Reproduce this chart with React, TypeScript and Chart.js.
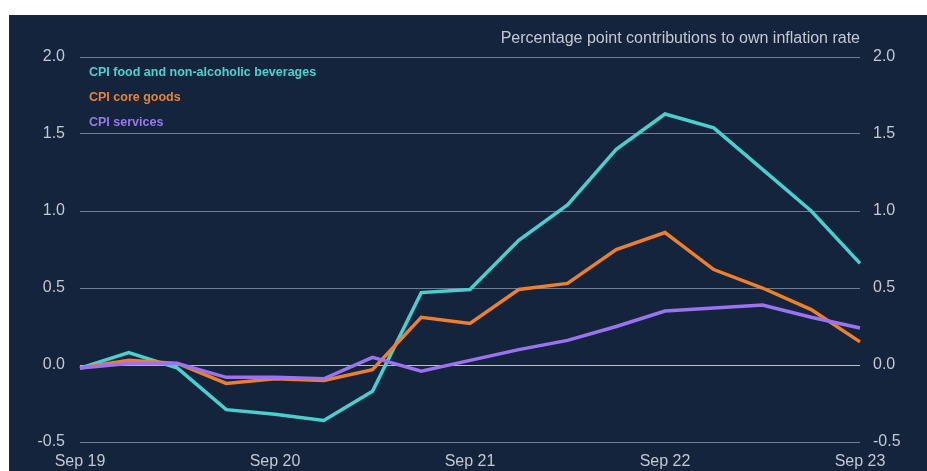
import React, { useEffect, useRef } from "react";
import { Chart, registerables } from "chart.js";

Chart.register(...registerables);

const quarters = [
  "Sep 19", "Dec 19", "Mar 20", "Jun 20", "Sep 20", "Dec 20", "Mar 21", "Jun 21",
  "Sep 21", "Dec 21", "Mar 22", "Jun 22", "Sep 22", "Dec 22", "Mar 23", "Jun 23", "Sep 23",
];
const foodValues = [-0.02, 0.08, -0.02, -0.29, -0.32, -0.36, -0.17, 0.47, 0.49, 0.81, 1.04, 1.4, 1.63, 1.54, 1.27, 1.0, 0.66];
const coreGoodsValues = [-0.02, 0.03, 0.01, -0.12, -0.09, -0.1, -0.03, 0.31, 0.27, 0.49, 0.53, 0.75, 0.86, 0.62, 0.5, 0.36, 0.15];
const servicesValues = [-0.02, 0.01, 0.01, -0.08, -0.08, -0.09, 0.05, -0.04, 0.03, 0.1, 0.16, 0.25, 0.35, 0.37, 0.39, 0.31, 0.24];
const seriesNames = ["CPI food and non-alcoholic beverages", "CPI core goods", "CPI services"];
const seriesColors = ["#4acfcf", "#ee7f2b", "#9b72f0"];
const legendColors = ["#4fd1d0", "#ea832f", "#9a78ea"];
const yMin = -0.5;
const yMax = 2.0;
const yStep = 0.5;
const chartTitle = "Percentage point contributions to own inflation rate";

const FONT = "'Liberation Sans', Arial, sans-serif";
const TEXT = "#c3c8d1";

const overlayPlugin = {
  id: "overlay",
  afterDraw(chart: any) {
    const { ctx, chartArea } = chart;
    ctx.save();
    ctx.textBaseline = "middle";
    ctx.font = `16px ${FONT}`;
    ctx.fillStyle = TEXT;
    ctx.textAlign = "right";
    ctx.fillText(chartTitle, chartArea.right, chartArea.top - 18);
    ctx.font = `bold 12.5px ${FONT}`;
    ctx.textAlign = "left";
    seriesNames.forEach((name, i) => {
      ctx.fillStyle = legendColors[i];
      ctx.fillText(name, chartArea.left + 9, chartArea.top + 16 + i * 25);
    });
    ctx.restore();
  },
};

export default function App() {
  const ref = useRef<HTMLCanvasElement | null>(null);

  useEffect(() => {
    if (!ref.current) return;
    const values = [foodValues, coreGoodsValues, servicesValues];
    const orders = [2, 1, 0];
    const chart = new Chart(ref.current, {
      type: "line",
      data: {
        labels: quarters,
        datasets: values.map((v, i) => ({
          label: seriesNames[i],
          data: v,
          borderColor: seriesColors[i],
          backgroundColor: seriesColors[i],
          borderWidth: 3.5,
          pointRadius: 0,
          tension: 0,
          order: orders[i],
          yAxisID: "y",
        })),
      },
      options: {
        responsive: false,
        animation: false,
        layout: { padding: { top: 42, left: 0, right: 0, bottom: 0 } },
        plugins: {
          legend: { display: false },
          title: { display: false },
          tooltip: { enabled: false },
        },
        scales: {
          x: {
            type: "category",
            offset: false,
            grid: { display: false, drawTicks: false },
            border: { display: false },
            ticks: {
              autoSkip: false,
              maxRotation: 0,
              padding: 10,
              color: TEXT,
              font: { family: FONT, size: 16 },
              callback: (_v: any, i: number) => (i % 4 === 0 ? quarters[i] : ""),
            },
            afterFit: (s: any) => {
              s.height = 29;
            },
          },
          y: {
            position: "left",
            min: yMin,
            max: yMax,
            grid: {
              drawTicks: false,
              color: (c: any) => (c.tick && c.tick.value === 0 ? "#b9c1cd" : "#6f7c92"),
              lineWidth: 1,
            },
            border: { display: false },
            ticks: {
              stepSize: yStep,
              padding: 15,
              color: TEXT,
              font: { family: FONT, size: 16 },
              callback: (v: any) => Number(v).toFixed(1),
            },
            afterFit: (s: any) => {
              s.width = 71;
            },
          },
          y2: {
            position: "right",
            min: yMin,
            max: yMax,
            grid: { display: false, drawTicks: false },
            border: { display: false },
            ticks: {
              stepSize: yStep,
              padding: 13,
              color: TEXT,
              font: { family: FONT, size: 16 },
              callback: (v: any) => Number(v).toFixed(1),
            },
            afterFit: (s: any) => {
              s.width = 67;
            },
          },
        },
      },
      plugins: [overlayPlugin],
    } as any);
    return () => chart.destroy();
  }, []);

  return (
    <div
      style={{
        position: "absolute",
        left: 9,
        top: 15,
        width: 918,
        height: 456,
        background: "#14243d",
      }}
    >
      <canvas ref={ref} width={918} height={456} style={{ display: "block" }} />
    </div>
  );
}
